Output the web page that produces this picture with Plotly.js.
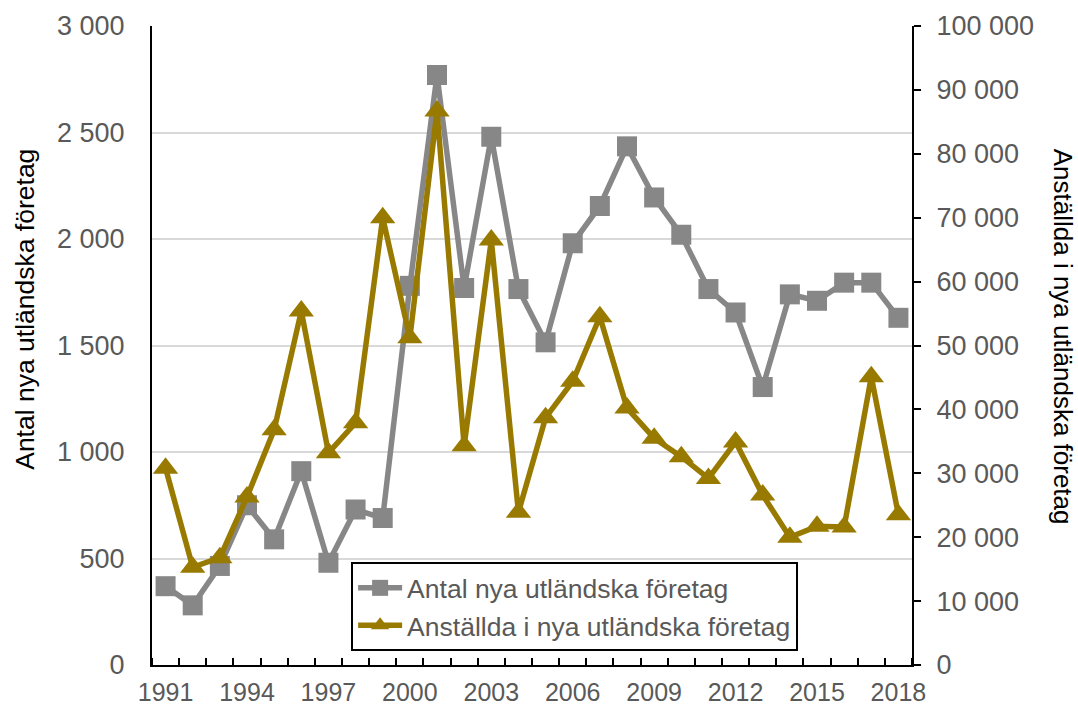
<!DOCTYPE html>
<html>
<head>
<meta charset="utf-8">
<script src="https://cdn.plot.ly/plotly-3.0.1.min.js"></script>
<style>
  html, body { margin: 0; padding: 0; background: #fff; }
  #chart { width: 1078px; height: 709px; }
</style>
</head>
<body>
<div id="chart"></div>
<script>
const years = [1991, 1992, 1993, 1994, 1995, 1996, 1997, 1998, 1999, 2000,
               2001, 2002, 2003, 2004, 2005, 2006, 2007, 2008, 2009, 2010,
               2011, 2012, 2013, 2014, 2015, 2016, 2017, 2018];
const antalForetag = [370, 280, 465, 750, 590, 910, 480, 730, 690, 1780,
                      2770, 1770, 2480, 1765, 1515, 1980, 2155, 2435, 2195, 2020,
                      1765, 1655, 1305, 1740, 1710, 1795, 1795, 1630];
const anstallda = [30800, 15300, 16800, 26300, 36800, 55400, 33200, 37900, 70000, 51200,
                   86700, 34300, 66500, 23900, 38700, 44400, 54500, 40200, 35500, 32600,
                   29200, 34900, 26600, 20000, 21700, 21600, 45100, 23500];
const xTickVals = [1991, 1994, 1997, 2000, 2003, 2006, 2009, 2012, 2015, 2018];
const xTickText = ['1991', '1994', '1997', '2000', '2003', '2006', '2009', '2012', '2015', '2018'];
const seriesNames = ['Antal nya utländska företag', 'Anställda i nya utländska företag'];
const leftTitle = 'Antal nya utländska företag';
const rightTitle = 'Anställda i nya utländska företag';

const FONT = '"Liberation Sans", Arial, sans-serif';
const FS = 27;
const GRAY = '#878787';
const GOLD = '#997a00';

const traces = [
  {
    x: years, y: antalForetag, name: seriesNames[0],
    type: 'scatter', mode: 'lines+markers', yaxis: 'y',
    line: { color: GRAY, width: 5.5 },
    marker: { symbol: 'square', size: 20, color: GRAY }
  },
  {
    x: years, y: anstallda, name: seriesNames[1],
    type: 'scatter', mode: 'lines+markers', yaxis: 'y2',
    line: { color: GOLD, width: 5.5 },
    marker: { symbol: 'triangle-up', size: 22, color: GOLD }
  }
];

const layout = {
  width: 1078, height: 709,
  margin: { l: 152, r: 166, t: 26, b: 44 },
  paper_bgcolor: '#ffffff', plot_bgcolor: '#ffffff',
  separators: ', ',
  font: { family: FONT, size: FS, color: '#595959' },
  showlegend: true,
  legend: {
    x: 0.262, y: 0.161, xanchor: 'left', yanchor: 'top',
    bgcolor: '#ffffff', bordercolor: '#000000', borderwidth: 2,
    font: { family: FONT, size: FS - 0.5, color: '#595959' },
    tracegroupgap: 0, itemwidth: 44
  },
  xaxis: {
    range: [1990.5, 2018.5],
    tickmode: 'array', tickvals: xTickVals, ticktext: xTickText,
    ticks: '', showgrid: false, zeroline: false,
    showline: true, linecolor: '#000000', linewidth: 2,
    ticklabelstandoff: 4,
    tickfont: { family: FONT, size: FS - 2, color: '#595959' },
    minor: { tickmode: 'linear', tick0: 1990.5, dtick: 1, ticks: 'inside', ticklen: 7, tickwidth: 2, tickcolor: '#000000', showgrid: false }
  },
  yaxis: {
    range: [0, 3000], tickmode: 'linear', tick0: 0, dtick: 500,
    separatethousands: true, tickformat: ',d',
    showgrid: true, gridcolor: '#d9d9d9', gridwidth: 2,
    zeroline: false, showline: true, linecolor: '#000000', linewidth: 2,
    ticks: '', ticklabelstandoff: 20,
    tickfont: { family: FONT, size: FS, color: '#595959' }
  },
  yaxis2: {
    range: [0, 100000], tickmode: 'linear', tick0: 0, dtick: 10000,
    separatethousands: true, tickformat: ',d', overlaying: 'y', side: 'right',
    showgrid: false, zeroline: false, showline: true, linecolor: '#000000', linewidth: 2,
    ticks: 'outside', ticklen: 7, tickwidth: 2, tickcolor: '#000000', ticklabelstandoff: 10,
    tickfont: { family: FONT, size: FS, color: '#595959' }
  },
  annotations: [
    {
      text: leftTitle, xref: 'paper', yref: 'paper', x: -0.167, y: 0.556,
      xanchor: 'center', yanchor: 'middle', textangle: -90, showarrow: false,
      font: { family: FONT, size: FS - 0.5, color: '#000000' }
    },
    {
      text: rightTitle, xref: 'paper', yref: 'paper', x: 1.198, y: 0.513,
      xanchor: 'center', yanchor: 'middle', textangle: 90, showarrow: false,
      font: { family: FONT, size: FS - 1, color: '#000000' }
    }
  ]
};

Plotly.newPlot('chart', traces, layout, { displayModeBar: false, staticPlot: true });
</script>
</body>
</html>
